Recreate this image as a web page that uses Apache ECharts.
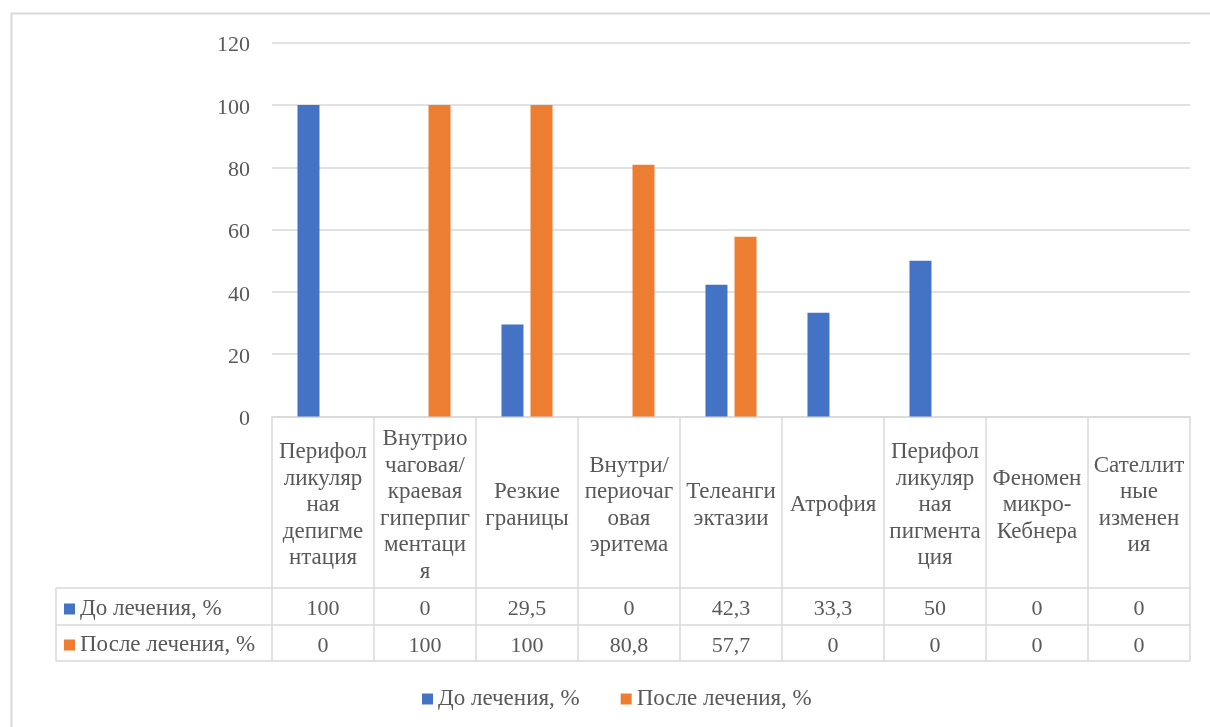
<!DOCTYPE html>
<html>
<head>
<meta charset="utf-8">
<title>До и после лечения</title>
<script src="https://cdn.jsdelivr.net/npm/echarts@6/dist/echarts.min.js"></script>
<style>
  html, body { margin: 0; padding: 0; background: #ffffff; }
  #chart { width: 1210px; height: 727px; }
</style>
</head>
<body>
<div id="chart"></div>
<script>
// Признаки (подписи разбиты по строкам так, как они помещаются в ячейку таблицы)
const categories = [
  'Перифол\nликуляр\nная\nдепигме\nнтация',
  'Внутрио\nчаговая/\nкраевая\nгиперпиг\nментаци\nя',
  'Резкие\nграницы',
  'Внутри/\nпериочаг\nовая\nэритема',
  'Телеанги\nэктазии',
  'Атрофия',
  'Перифол\nликуляр\nная\nпигмента\nция',
  'Феномен\nмикро-\nКебнера',
  'Сателлит\nные\nизменен\nия'
];
const seriesNames = ['До лечения, %', 'После лечения, %'];
const beforeValues = [100, 0, 29.5, 0, 42.3, 33.3, 50, 0, 0];
const afterValues = [0, 100, 100, 80.8, 57.7, 0, 0, 0, 0];
const yTicks = { min: 0, max: 120, interval: 20 };

const FONT = "'Liberation Serif', 'Times New Roman', serif";
const TEXT = '#595959';
const LINE = '#d9d9d9';
const FS_NUM = 22;   // числа
const FS_TXT = 23;   // подписи

// Геометрия области построения и таблицы данных под ней
const W = 1210, H = 727;
const plotLeft = 272, plotRight = 1190, plotTop = 42.7, plotBottom = 416.5;
const headerBottom = 588, row1Bottom = 625, row2Bottom = 661, tableLeft = 56;
const textNudge = 3; // опускает глифы к оптическому центру ячейки

const fmt = v => String(v).replace('.', ',');

const chart = echarts.init(document.getElementById('chart'), null, { renderer: 'canvas' });

function valueRowAxis(values, centerY) {
  return {
    type: 'category',
    gridIndex: 0,
    position: 'bottom',
    data: categories,
    axisLine: { show: false },
    axisTick: { show: false },
    splitLine: { show: false },
    axisLabel: {
      interval: 0,
      margin: centerY - plotBottom + textNudge,
      verticalAlign: 'middle',
      fontFamily: FONT,
      fontSize: FS_NUM,
      color: TEXT,
      formatter: (v, i) => fmt(values[i])
    }
  };
}

const legendText = { fontFamily: FONT, fontSize: FS_TXT, color: TEXT, lineHeight: 26 };

const option = {
  backgroundColor: '#ffffff',
  animation: false,
  textStyle: { fontFamily: FONT },
  grid: {
    left: plotLeft,
    right: W - plotRight,
    top: plotTop,
    bottom: H - plotBottom,
    containLabel: false
  },
  legend: [
    {
      // ключи строк таблицы
      orient: 'vertical',
      left: 59,
      top: 591,
      padding: 5,
      itemWidth: 11,
      itemHeight: 11,
      itemGap: 10,
      icon: 'rect',
      selectedMode: false,
      data: seriesNames,
      textStyle: legendText
    },
    {
      orient: 'horizontal',
      left: 417,
      top: 681,
      padding: 5,
      itemWidth: 11,
      itemHeight: 11,
      itemGap: 41,
      icon: 'rect',
      selectedMode: false,
      data: seriesNames,
      textStyle: legendText
    }
  ],
  xAxis: [
    {
      type: 'category',
      gridIndex: 0,
      position: 'bottom',
      data: categories,
      axisLine: { show: true, lineStyle: { color: LINE, width: 1.5 } },
      axisTick: {
        show: true,
        inside: false,
        length: row2Bottom - plotBottom,
        lineStyle: { color: LINE, width: 1.5 }
      },
      axisLabel: {
        interval: 0,
        margin: (plotBottom + headerBottom) / 2 - plotBottom + textNudge,
        verticalAlign: 'middle',
        align: 'center',
        fontFamily: FONT,
        fontSize: FS_TXT,
        lineHeight: 26.5,
        color: TEXT
      }
    },
    valueRowAxis(beforeValues, (headerBottom + row1Bottom) / 2),
    valueRowAxis(afterValues, (row1Bottom + row2Bottom) / 2)
  ],
  yAxis: {
    type: 'value',
    min: yTicks.min,
    max: yTicks.max,
    interval: yTicks.interval,
    axisLine: { show: false },
    axisTick: { show: false },
    splitLine: { lineStyle: { color: LINE, width: 1.5 } },
    axisLabel: {
      margin: 22,
      color: TEXT,
      formatter: '{n|{value}}',
      rich: {
        n: {
          fontFamily: FONT,
          fontSize: FS_NUM,
          color: TEXT,
          padding: [textNudge * 2, 0, 0, 0]
        }
      }
    }
  },
  series: [
    {
      name: seriesNames[0],
      type: 'bar',
      xAxisIndex: 0,
      data: beforeValues,
      barWidth: 22,
      barGap: '32%',
      itemStyle: { color: '#4472C4' }
    },
    {
      name: seriesNames[1],
      type: 'bar',
      xAxisIndex: 0,
      data: afterValues,
      barWidth: 22,
      barGap: '32%',
      itemStyle: { color: '#ED7D31' }
    }
  ],
  graphic: [
    // рамка диаграммы
    {
      type: 'rect',
      shape: { x: 11.5, y: 13.5, width: 1240, height: 800 },
      style: { fill: 'none', stroke: LINE, lineWidth: 2 },
      silent: true
    },
    // горизонтальные линии таблицы данных
    ...[headerBottom, row1Bottom, row2Bottom].map(y => ({
      type: 'line',
      shape: { x1: tableLeft, y1: y, x2: plotRight, y2: y },
      style: { stroke: LINE, lineWidth: 1.5 },
      silent: true
    })),
    // левая граница столбца с названиями рядов
    {
      type: 'line',
      shape: { x1: tableLeft, y1: headerBottom, x2: tableLeft, y2: row2Bottom },
      style: { stroke: LINE, lineWidth: 1.5 },
      silent: true
    }
  ]
};

chart.setOption(option);
</script>
</body>
</html>
